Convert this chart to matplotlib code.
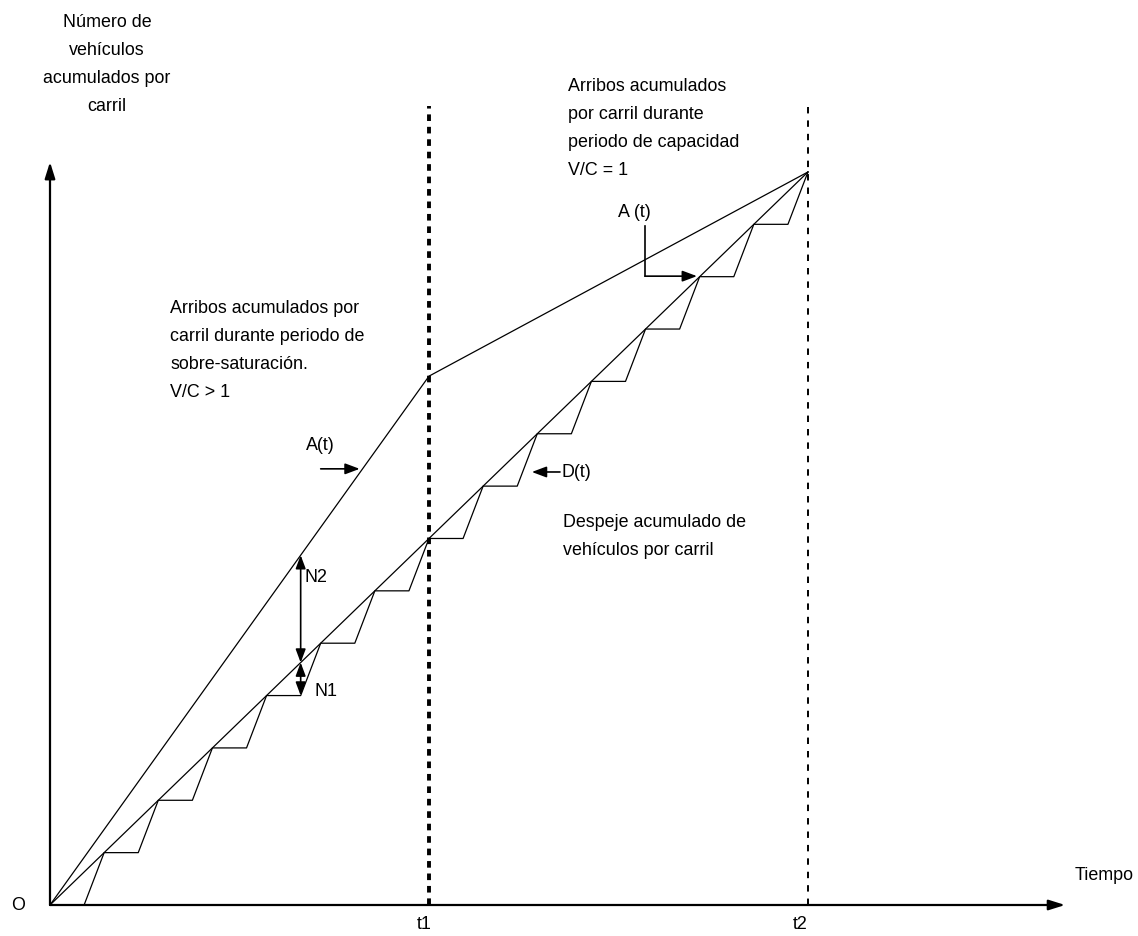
import matplotlib.pyplot as plt

plt.rcParams["font.family"] = ["Liberation Sans", "DejaVu Sans"]

# datos del diagrama (tiempo en intervalos de despeje, vehículos acumulados)
t_arribos = [0, 7, 14]          # quiebres de la curva de arribos A(t)
arribos = [0, 10.1, 14]
t_despeje = [0, 14]             # recta de despeje D(t)
despeje = [0, 14]
t_salidas = list(range(15))     # instante de salida de cada vehículo
t1, t2 = 7, 14
retardo = 0.63                  # parte del intervalo en que la cola no avanza

# curva escalonada de salidas
esc_t, esc_n = [], []
for i in range(len(t_salidas) - 1):
    a, b = t_salidas[i], t_salidas[i + 1]
    esc_t += [a, a + retardo * (b - a), b]
    esc_n += [i, i, i + 1]

fig = plt.figure(figsize=(11.38, 9.37), dpi=100)
ax = fig.add_axes([0, 0, 1, 1])
ax.set_xlim(-50 / 54.14, 1088 / 54.14)
ax.set_ylim(-31 / 52.36, 906 / 52.36)
ax.axis("off")

fs = 12.9
ls = 1.85
lw = 0.9

# ejes con flecha
flecha = dict(arrowstyle="-|>,head_length=0.7,head_width=0.22", color="black",
              lw=1.6, mutation_scale=14, shrinkA=0, shrinkB=0)
ax.annotate("", xy=(18.75, 0), xytext=(0, 0), arrowprops=flecha)
ax.annotate("", xy=(0, 14.19), xytext=(0, 0), arrowprops=flecha)

# líneas t1 y t2
ax.plot([t1, t1], [0, 15.26], color="black", lw=2.8, ls=(0, (1.7, 1.5)))
ax.plot([t2, t2], [0, 15.26], color="black", lw=1.4, ls=(0, (3.3, 3.6)))

# curvas
ax.plot(t_arribos, arribos, color="black", lw=lw)
ax.plot(t_despeje, despeje, color="black", lw=lw)
ax.plot(esc_t, esc_n, color="black", lw=lw)

# textos
ax.text(1.05, 17.04, "Número de\nvehículos\nacumulados por\ncarril", fontsize=fs,
        ha="center", va="top", linespacing=ls)
ax.text(-0.59, 0, "O", fontsize=fs, ha="center", va="center")
ax.text(18.93, 0.59, "Tiempo", fontsize=fs, ha="left", va="center")
ax.text(t1 + 0.04, -0.36, "t1", fontsize=fs, ha="right", va="center")
ax.text(t2 + 0.0, -0.36, "t2", fontsize=fs, ha="right", va="center")

ax.text(2.22, 11.58, "Arribos acumulados por\ncarril durante periodo de\nsobre-saturación.\nV/C > 1",
        fontsize=fs, ha="left", va="top", linespacing=ls)
ax.text(9.57, 15.82, "Arribos acumulados\npor carril durante\nperiodo de capacidad\nV/C = 1",
        fontsize=fs, ha="left", va="top", linespacing=ls)
ax.text(9.48, 7.48, "Despeje acumulado de\nvehículos por carril",
        fontsize=fs, ha="left", va="top", linespacing=ls)

punta = dict(arrowstyle="-|>,head_length=0.8,head_width=0.3", color="black",
             lw=1.2, mutation_scale=11, shrinkA=0, shrinkB=0)

# A(t) superior
ax.text(10.49, 13.25, "A (t)", fontsize=fs, ha="left", va="center")
ax.plot([10.99, 10.99], [12.97, 12.01], color="black", lw=1.2)
ax.annotate("", xy=(11.95, 12.01), xytext=(10.99, 12.01), arrowprops=punta)

# A(t) inferior
ax.text(5.0, 8.80, "A(t)", fontsize=fs, ha="center", va="center")
ax.annotate("", xy=(5.72, 8.33), xytext=(5.0, 8.33), arrowprops=punta)

# D(t)
ax.annotate("", xy=(8.90, 8.27), xytext=(9.42, 8.27), arrowprops=punta)
ax.text(9.44, 8.27, "D(t)", fontsize=fs, ha="left", va="center")

# N2 y N1
tn = t_salidas[4] + retardo
doble = dict(arrowstyle="<|-|>,head_length=0.8,head_width=0.3", color="black",
             lw=1.2, mutation_scale=10, shrinkA=0, shrinkB=0)
ax.annotate("", xy=(tn, tn * arribos[1] / t1), xytext=(tn, tn), arrowprops=doble)
ax.annotate("", xy=(tn, tn), xytext=(tn, 4), arrowprops=doble)
ax.text(tn + 0.08, 6.28, "N2", fontsize=fs, ha="left", va="center")
ax.text(tn + 0.25, 4.09, "N1", fontsize=fs, ha="left", va="center")

fig.savefig("out.png", dpi=100)
